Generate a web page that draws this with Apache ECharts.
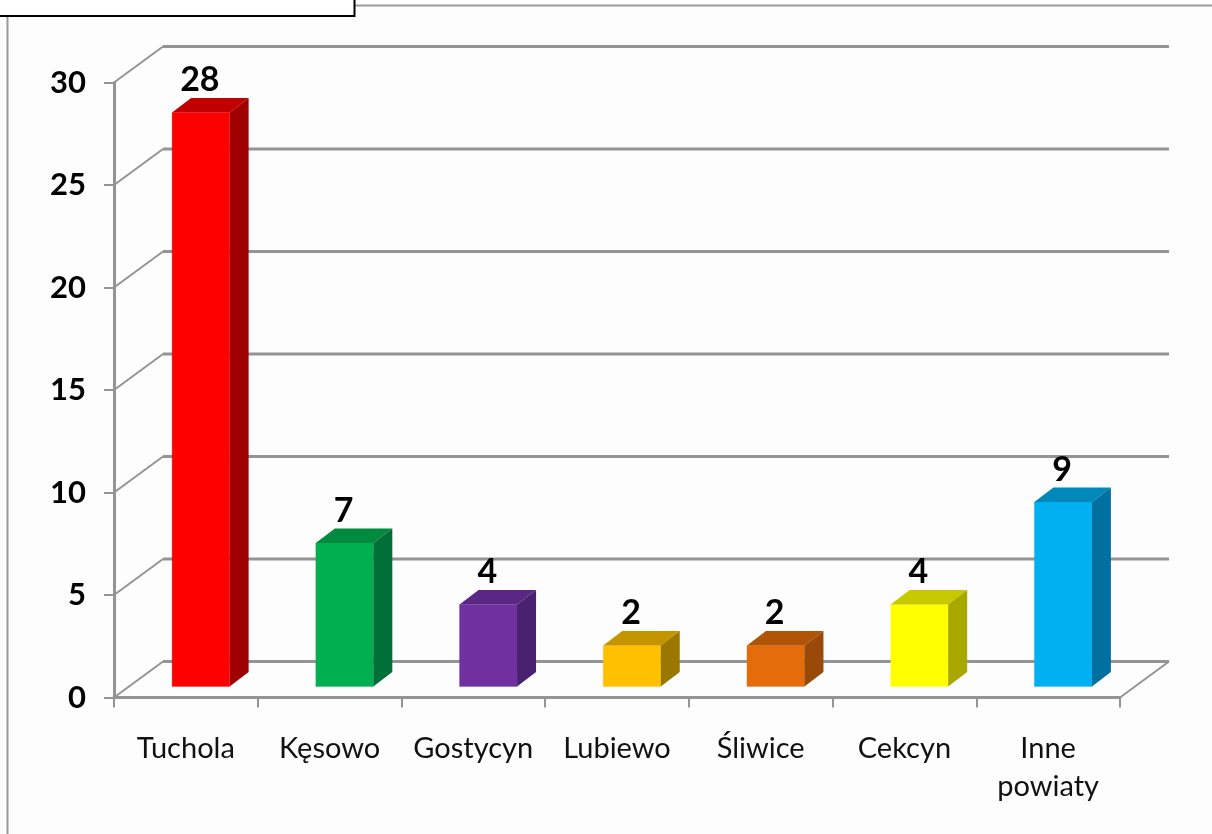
<!DOCTYPE html>
<html>
<head>
<meta charset="utf-8">
<title>Powiaty</title>
<script src="https://cdn.jsdelivr.net/npm/echarts@6/dist/echarts.min.js"></script>
<style>
html,body{margin:0;padding:0;background:#fdfdfd;}
#chart{width:1212px;height:834px;}
</style>
</head>
<body>
<div id="chart"></div>
<script>
var categories = ['Tuchola','Kęsowo','Gostycyn','Lubiewo','Śliwice','Cekcyn','Inne\npowiaty'];
var values = [28,7,4,2,2,4,9];
var yTicks = [0,5,10,15,20,25,30];
var frontColors = ['#ff0000','#00b050','#7030a0','#ffc000','#e46c0a','#ffff00','#00b0f0'];
var topColors = ['#c00000','#008a40','#5a2785','#c49500','#b05508','#c8c800','#0088bb'];
var sideColors = ['#a00000','#007038','#4a2070','#9a7800','#9a4a08','#a8a800','#0070a0'];

var lineColor = '#949494', fontName = 'Lato';
var wallX = 49, wallY = 36;   //przesuniecie tylnej sciany
var depthX = 19, depthY = 14.5; //glebokosc slupka
var barW = 57.5;

var chart = echarts.init(document.getElementById('chart'));

//linie siatki: skos od osi i pozioma na tylnej scianie
function renderGrid(params, api){
	var p = api.coord([0, api.value(0)]);
	var left = params.coordSys.x, right = left + params.coordSys.width;
	var thin = {stroke: lineColor, lineWidth: 2};
	var thick = {stroke: lineColor, lineWidth: 3};
	var kids = [
		{type:'line', shape:{x1:left,y1:p[1],x2:left+wallX,y2:p[1]-wallY}, style:thin},
		{type:'line', shape:{x1:left+wallX,y1:p[1]-wallY,x2:right+wallX,y2:p[1]-wallY}, style:thick}
	];
	if(api.value(0) === 0){
		kids.push({type:'line', shape:{x1:right,y1:p[1],x2:right+wallX,y2:p[1]-wallY}, style:thin});
	}
	return {type:'group', children:kids};
}

//slupek 3D: przod, gora, bok i etykieta
function renderBar(params, api){
	var i = api.value(0), v = api.value(1);
	var cx = api.coord([i,0])[0] + 15;
	var base = api.coord([i,0])[1] - 11;
	var top = api.coord([i,v])[1] - 11;
	var l = cx - barW/2, r = cx + barW/2;
	return {type:'group', children:[
		{type:'polygon', shape:{points:[[l,base],[l,top],[r,top],[r,base]]},
			style:{fill:frontColors[i], stroke:echarts.color.modifyAlpha(frontColors[i],0.3), lineWidth:1}},
		{type:'polygon', shape:{points:[[l,top],[l+depthX,top-depthY],[r+depthX,top-depthY],[r,top]]},
			style:{fill:topColors[i]}},
		{type:'polygon', shape:{points:[[r,top],[r+depthX,top-depthY],[r+depthX,base-depthY],[r,base]]},
			style:{fill:sideColors[i]}},
		{type:'text', style:{text:String(v), x:cx-1, y:top-32, align:'center', verticalAlign:'middle',
			fill:'#000', font:'bold 34px '+fontName}}
	]};
}

chart.setOption({
	backgroundColor:'#fdfdfd',
	animation:false,
	grid:{left:114, right:92, top:82.5, bottom:136.5},
	xAxis:{
		type:'category',
		data:categories,
		axisLine:{lineStyle:{color:lineColor,width:3}},
		axisTick:{show:true,length:10,lineStyle:{color:lineColor,width:2}},
		axisLabel:{color:'#111',fontFamily:fontName,fontSize:29,margin:32,lineHeight:38,interval:0}
	},
	yAxis:{
		type:'value',
		min:0,
		max:30,
		interval:5,
		splitLine:{show:false},
		axisLine:{show:true,lineStyle:{color:lineColor,width:3}},
		axisTick:{show:true,length:10,lineStyle:{color:lineColor,width:2}},
		axisLabel:{color:'#000',fontFamily:fontName,fontWeight:'bold',fontSize:31,margin:28}
	},
	series:[
		{type:'custom',renderItem:renderGrid,data:yTicks.map(function(t){return [t];}),encode:{y:0},clip:false,silent:true,z:1},
		{type:'custom',renderItem:renderBar,data:values.map(function(v,i){return [i,v];}),encode:{x:0,y:1},clip:false,z:3}
	],
	graphic:[
		//ramka u gory i z lewej
		{type:'line',shape:{x1:355,y1:5.5,x2:1212,y2:5.5},style:{stroke:'#999',lineWidth:2}},
		{type:'line',shape:{x1:7.5,y1:17,x2:7.5,y2:834},style:{stroke:'#999',lineWidth:2}},
		{type:'rect',shape:{x:-5,y:-5,width:359.5,height:21},style:{fill:'#fff',stroke:'#000',lineWidth:2}}
	]
});
</script>
</body>
</html>
